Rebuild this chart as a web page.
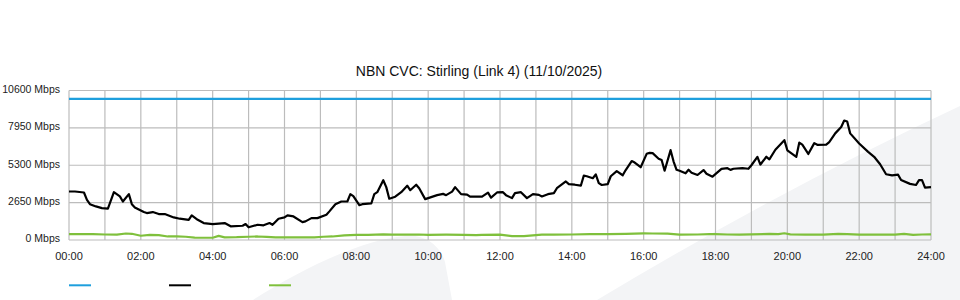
<!DOCTYPE html>
<html>
<head>
<meta charset="utf-8">
<script src="https://cdn.jsdelivr.net/npm/d3@7"></script>
<style>
  body { margin: 0; background: #fff; }
  svg { display: block; font-family: "Liberation Sans", Arial, sans-serif; }
</style>
</head>
<body>
<svg id="chart"></svg>
<script>
var chartTitle = "NBN CVC: Stirling (Link 4) (11/10/2025)";

var xTickLabels = ["00:00", "02:00", "04:00", "06:00", "08:00", "10:00", "12:00",
  "14:00", "16:00", "18:00", "20:00", "22:00", "24:00"];
var yTickValues = [0, 2650, 5300, 7950, 10600];

// minutes after midnight
var capacityTimes = [0, 1440];
var capacityValues = [10000, 10000];

var downTimes = [
  0, 10, 25, 30, 35, 45, 55, 65, 75, 85,
  90, 100, 105, 110, 125, 130, 140, 150, 160, 175,
  185, 200, 205, 215, 225, 240, 260, 270, 290, 295,
  300, 315, 325, 335, 340, 350, 360, 365, 375, 390,
  395, 405, 415, 430, 435, 445, 455, 465, 470, 475,
  485, 490, 505, 510, 515, 525, 530, 535, 545, 555,
  565, 570, 580, 585, 595, 600, 615, 625, 630, 640,
  645, 655, 665, 670, 690, 700, 705, 715, 725, 730,
  740, 745, 755, 765, 775, 785, 790, 800, 810, 815,
  830, 835, 845, 855, 860, 865, 875, 880, 885, 890,
  900, 905, 915, 925, 930, 940, 945, 955, 965, 970,
  975, 985, 990, 995, 1005, 1010, 1015, 1020, 1030, 1035,
  1040, 1050, 1060, 1065, 1075, 1090, 1100, 1105, 1110, 1125,
  1135, 1140, 1150, 1155, 1165, 1170, 1180, 1195, 1200, 1215,
  1220, 1225, 1235, 1245, 1250, 1265, 1270, 1280, 1290, 1295,
  1300, 1305, 1320, 1335, 1345, 1355, 1365, 1375, 1385, 1390,
  1405, 1415, 1420, 1425, 1430, 1440
];
var downValues = [
  3440, 3440, 3370, 2850, 2540, 2380, 2260, 2220, 3390, 3090,
  2730, 3250, 2540, 2310, 1980, 1910, 1980, 1840, 1840, 1600,
  1510, 1430, 1750, 1430, 1200, 1130, 1200, 970, 1010, 1130,
  900, 1080, 1040, 1200, 1080, 1510, 1600, 1750, 1670, 1270,
  1320, 1550, 1550, 1790, 2030, 2540, 2730, 2730, 3250, 3110,
  2470, 2540, 2590, 3250, 3390, 4240, 3750, 2930, 3070, 3390,
  3850, 3530, 3920, 3670, 2900, 2970, 3180, 3270, 3180, 3430,
  3750, 3250, 3220, 3070, 3070, 3360, 3000, 3370, 3390, 3180,
  2970, 3320, 3390, 2970, 3250, 3200, 3090, 3250, 3320, 3670,
  4150, 3960, 3920, 3850, 4560, 4520, 4380, 4650, 4030, 3900,
  3960, 4520, 4880, 4590, 4960, 5600, 5490, 5160, 6110, 6180,
  6160, 5760, 5670, 4910, 6370, 5560, 4980, 4910, 4730, 4980,
  4770, 4610, 4960, 4700, 4490, 5040, 5090, 4970, 5050, 5100,
  5050, 5300, 5900, 5350, 5900, 5720, 6400, 7080, 6360, 5900,
  6910, 6760, 6100, 6870, 6750, 6760, 6940, 7560, 8010, 8470,
  8400, 7560, 6840, 6250, 5900, 5370, 4660, 4580, 4630, 4250,
  3980, 3900, 4250, 4250, 3720, 3750
];

var upTimes = [
  0, 20, 40, 60, 80, 95, 105, 120, 135, 150,
  165, 180, 195, 210, 225, 240, 250, 260, 280, 300,
  315, 330, 345, 360, 390, 410, 425, 440, 460, 480,
  500, 525, 540, 560, 585, 600, 630, 660, 680, 690,
  720, 740, 760, 790, 810, 840, 870, 900, 930, 960,
  975, 1000, 1020, 1050, 1070, 1080, 1100, 1120, 1140, 1170,
  1185, 1195, 1205, 1230, 1260, 1285, 1300, 1320, 1350, 1380,
  1395, 1410, 1425, 1440
];
var upValues = [
  420, 420, 410, 390, 380, 460, 440, 300, 360, 350,
  250, 250, 230, 170, 160, 160, 290, 190, 200, 230,
  250, 220, 190, 190, 190, 190, 230, 250, 330, 360,
  370, 400, 380, 380, 390, 370, 380, 370, 340, 370,
  380, 270, 280, 380, 380, 390, 410, 410, 440, 470,
  460, 450, 380, 390, 410, 420, 390, 380, 400, 430,
  420, 480, 400, 380, 380, 440, 420, 380, 380, 380,
  440, 360, 390, 400
];

var dimensions = {
  margin: { top: 90.5, right: 29, bottom: 60, left: 69 },
  width: 960,
  height: 300,
};

var svg = d3
  .select("#chart")
  .attr("width", dimensions.width)
  .attr("height", dimensions.height);

// faint watermark shapes behind the chart
svg.append("path")
  .attr("d", "M253,300 C300,270 360,240 405,236 C425,234 440,245 445,262 L452,300 Z")
  .attr("fill", "#f3f4f6");
svg.append("path")
  .attr("d", "M597,300 Q780,190 960,106 L960,300 Z")
  .attr("fill", "#f3f4f6");

var xScale = d3
  .scaleLinear()
  .domain([0, 1440])
  .range([dimensions.margin.left, dimensions.width - dimensions.margin.right]);

var yScale = d3
  .scaleLinear()
  .domain([0, 10600])
  .range([dimensions.height - dimensions.margin.bottom, dimensions.margin.top]);

// grid
var grid = svg.append("g").attr("stroke", "#bcbcbc").attr("stroke-width", 1.2);

grid.selectAll("line.v")
  .data(d3.range(0, 1441, 60))
  .enter()
  .append("line")
  .attr("class", "v")
  .attr("x1", (d) => xScale(d))
  .attr("x2", (d) => xScale(d))
  .attr("y1", yScale(10600))
  .attr("y2", yScale(0));

grid.selectAll("line.h")
  .data(yTickValues)
  .enter()
  .append("line")
  .attr("class", "h")
  .attr("x1", xScale(0))
  .attr("x2", xScale(1440))
  .attr("y1", (d) => yScale(d))
  .attr("y2", (d) => yScale(d));

// axis labels
svg.append("g")
  .selectAll("text")
  .data(yTickValues)
  .enter()
  .append("text")
  .attr("x", dimensions.margin.left - 9)
  .attr("y", (d) => yScale(d) + 2.3)
  .attr("text-anchor", "end")
  .attr("font-size", "10.5px")
  .attr("fill", "#222")
  .text((d) => d + " Mbps");

svg.append("g")
  .selectAll("text")
  .data(xTickLabels)
  .enter()
  .append("text")
  .attr("x", (d) => xScale(+d.slice(0, 2) * 60))
  .attr("y", 260)
  .attr("text-anchor", "middle")
  .attr("font-size", "11px")
  .attr("fill", "#222")
  .text((d) => d);

svg.append("text")
  .attr("x", 479)
  .attr("y", 76)
  .attr("text-anchor", "middle")
  .attr("font-size", "14px")
  .attr("fill", "#111")
  .text(chartTitle);

// series
var series = [
  { times: capacityTimes, values: capacityValues, color: "#1e9fdd" },
  { times: upTimes, values: upValues, color: "#7fc03c" },
  { times: downTimes, values: downValues, color: "#000000" },
];

var lineGen = d3
  .line()
  .x((d) => xScale(d[0]))
  .y((d) => yScale(d[1]));

series.forEach(function (s) {
  svg.append("path")
    .datum(d3.zip(s.times, s.values))
    .attr("fill", "none")
    .attr("stroke", s.color)
    .attr("stroke-width", 2.2)
    .attr("stroke-linejoin", "round")
    .attr("d", lineGen);
});

// legend swatches (no text)
var legendColors = ["#1e9fdd", "#000000", "#7fc03c"];
svg.append("g")
  .selectAll("line")
  .data(legendColors)
  .enter()
  .append("line")
  .attr("x1", (d, i) => 69 + i * 100)
  .attr("x2", (d, i) => 91 + i * 100)
  .attr("y1", 285.3)
  .attr("y2", 285.3)
  .attr("stroke", (d) => d)
  .attr("stroke-width", 2);
</script>
</body>
</html>
